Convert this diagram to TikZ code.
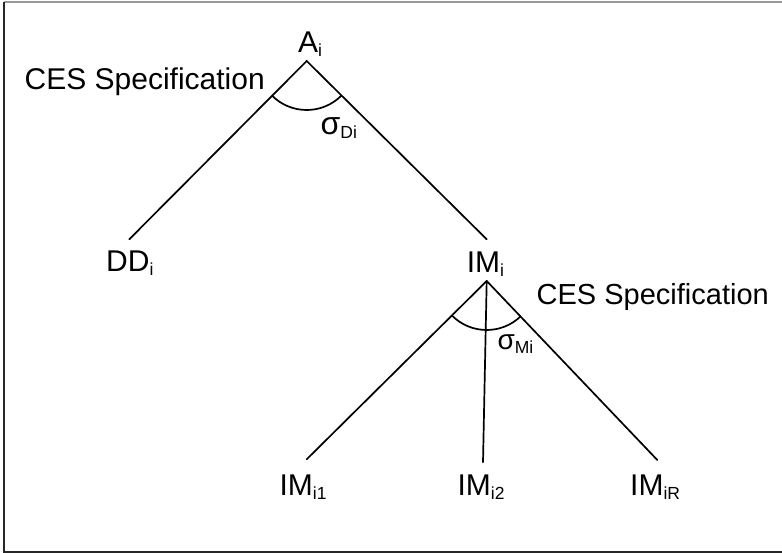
\documentclass[tikz,border=0pt]{standalone}
\usepackage{fontspec}
\setmainfont{Liberation Sans}
\newcommand\sbx[1]{\raisebox{-4pt}{\fontsize{17.5}{17.5}\selectfont #1}}
\tikzset{
  lbl/.style={inner sep=0pt, anchor=base west, font=\fontsize{30}{34}\selectfont},
  branch/.style={line width=1.7pt, line cap=round},
  angarc/.style={line width=1.7pt},
}
\begin{document}
\begin{tikzpicture}[x=1pt,y=1pt]
\useasboundingbox (0,0) rectangle (782,-553);
% frame
\draw[line width=1.8pt, gray!80] (4,-2) -- (782,-2);
\draw[line width=1.5pt, black!85] (4,-2) -- (4,-552) -- (782,-552);

% points
\coordinate (Atop) at (306.7,-61);
\coordinate (DDend) at (129.3,-239.3);
\coordinate (IMend) at (486.7,-239.3);
\coordinate (IMtop) at (486.7,-281);
\coordinate (E1) at (306.7,-459.3);
\coordinate (E2) at (483,-462.3);
\coordinate (E3) at (657.3,-460);

% labels
\node[lbl] (A) at (298,-53) {A\sbx{i}};
\node[lbl] (ces1) at (24.5,-90) {CES Specification};
\node[lbl, font=\fontsize{29}{34}\selectfont] (ces2) at (536.5,-305) {CES Specification};
\node[lbl] (DD) at (106,-272) {DD\sbx{i}};
\node[lbl] (IM) at (466.7,-273) {IM\sbx{i}};
\node[lbl] (IM1) at (279.4,-495.7) {IM\sbx{i1}};
\node[lbl] (IM2) at (457.4,-495.7) {IM\sbx{i2}};
\node[lbl] (IMR) at (630,-495.7) {IM\sbx{iR}};
\node[lbl, font=\fontsize{32}{34}\selectfont] (sD) at (320.5,-135) {σ\sbx{Di}};
\node[lbl, font=\fontsize{28}{34}\selectfont] (sM) at (497.3,-349) {σ\sbx{Mi}};

% branches
\draw[branch] (DDend) -- (Atop) -- (IMend);
\draw[branch] (E1) -- (IMtop) -- (E3);
\draw[branch] (IMtop) -- (E2);

% arcs
\draw[angarc] ([shift={(225:49pt)}]Atop) arc[start angle=225, end angle=315, radius=49pt];
\draw[angarc] ([shift={(225:49pt)}]IMtop) arc[start angle=225, end angle=313.6, radius=49pt];
\end{tikzpicture}
\end{document}
